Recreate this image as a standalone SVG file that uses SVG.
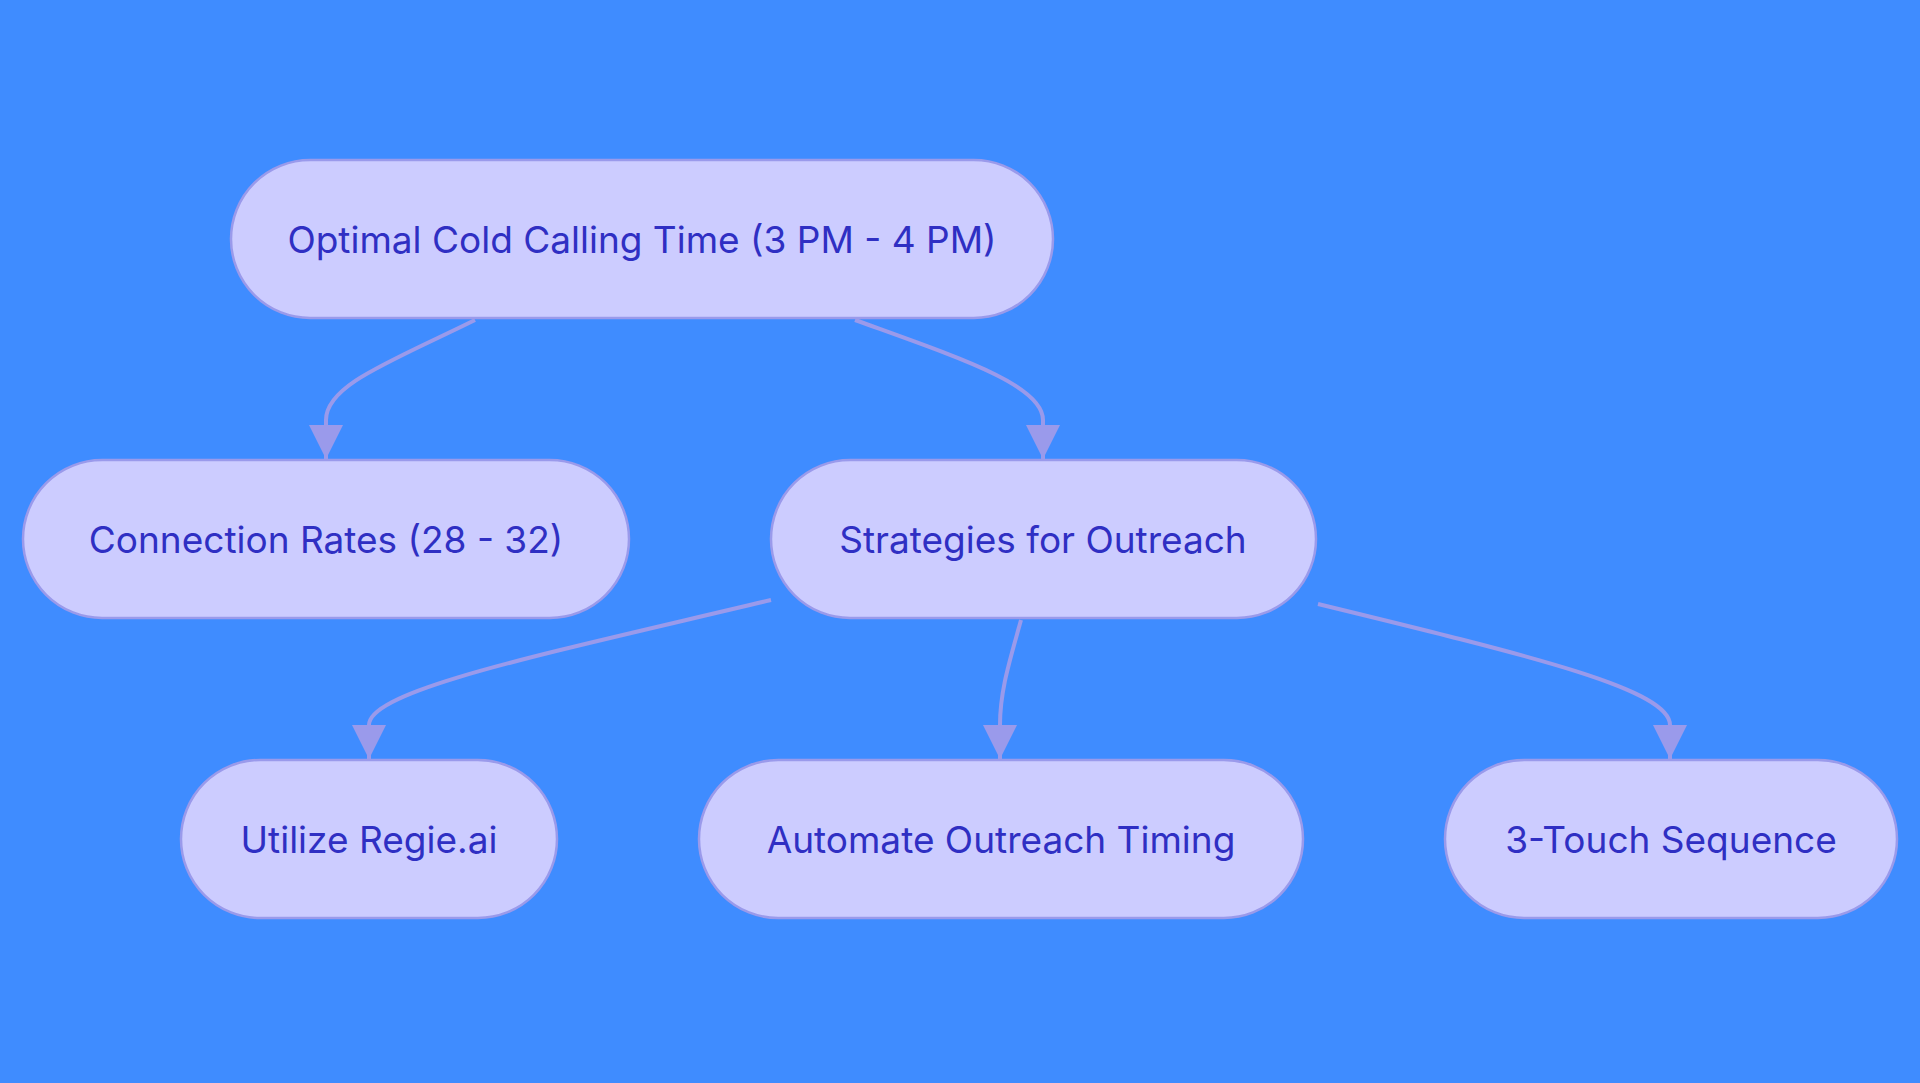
<svg xmlns="http://www.w3.org/2000/svg" width="1920" height="1083" viewBox="0 0 1920 1083">
<style>
.n rect{fill:#CCCCFF;stroke:#9A9AEB;stroke-width:2.5}
.n text{font-family:Inter,"Noto Sans",sans-serif;font-size:37px;fill:#2F2FC3;text-anchor:middle;dominant-baseline:central}
.e path{fill:none;stroke:#9A9AEB;stroke-width:4;marker-end:url(#a)}
</style>
<defs><marker id="a" viewBox="0 0 10 10" refX="10" refY="5" markerWidth="34" markerHeight="34" markerUnits="userSpaceOnUse" orient="auto"><path d="M0,0 L10,5 L0,10 z" fill="#9A9AEB"/></marker></defs>
<rect width="1920" height="1083" fill="#3F8CFF"/>
<g class="e" id="edges">
<path d="M475,320 C390,362 326,385 326,420 L326,459"/>
<path d="M855,320 C960,358 1043,385 1043,420 L1043,459"/>
<path d="M771,600 C540,655 369,690 369,725 L369,759"/>
<path d="M1021,620 C1010,660 1000,690 1000,725 L1000,759"/>
<path d="M1318,604 C1540,658 1670,690 1670,725 L1670,759"/>
</g>
<g class="n" id="n1"><rect x="231" y="160" width="822" height="158" rx="79"/><text x="642" y="239">Optimal Cold Calling Time (3 PM - 4 PM)</text></g>
<g class="n" id="n2"><rect x="23" y="460" width="606" height="158" rx="79"/><text x="326" y="539">Connection Rates (28 - 32)</text></g>
<g class="n" id="n3"><rect x="771" y="460" width="545" height="158" rx="79"/><text x="1043" y="539">Strategies for Outreach</text></g>
<g class="n" id="n4"><rect x="181" y="760" width="376" height="158" rx="79"/><text x="369" y="839">Utilize Regie.ai</text></g>
<g class="n" id="n5"><rect x="699" y="760" width="604" height="158" rx="79"/><text x="1001" y="839">Automate Outreach Timing</text></g>
<g class="n" id="n6"><rect x="1445" y="760" width="452" height="158" rx="79"/><text x="1671" y="839">3-Touch Sequence</text></g>
</svg>
